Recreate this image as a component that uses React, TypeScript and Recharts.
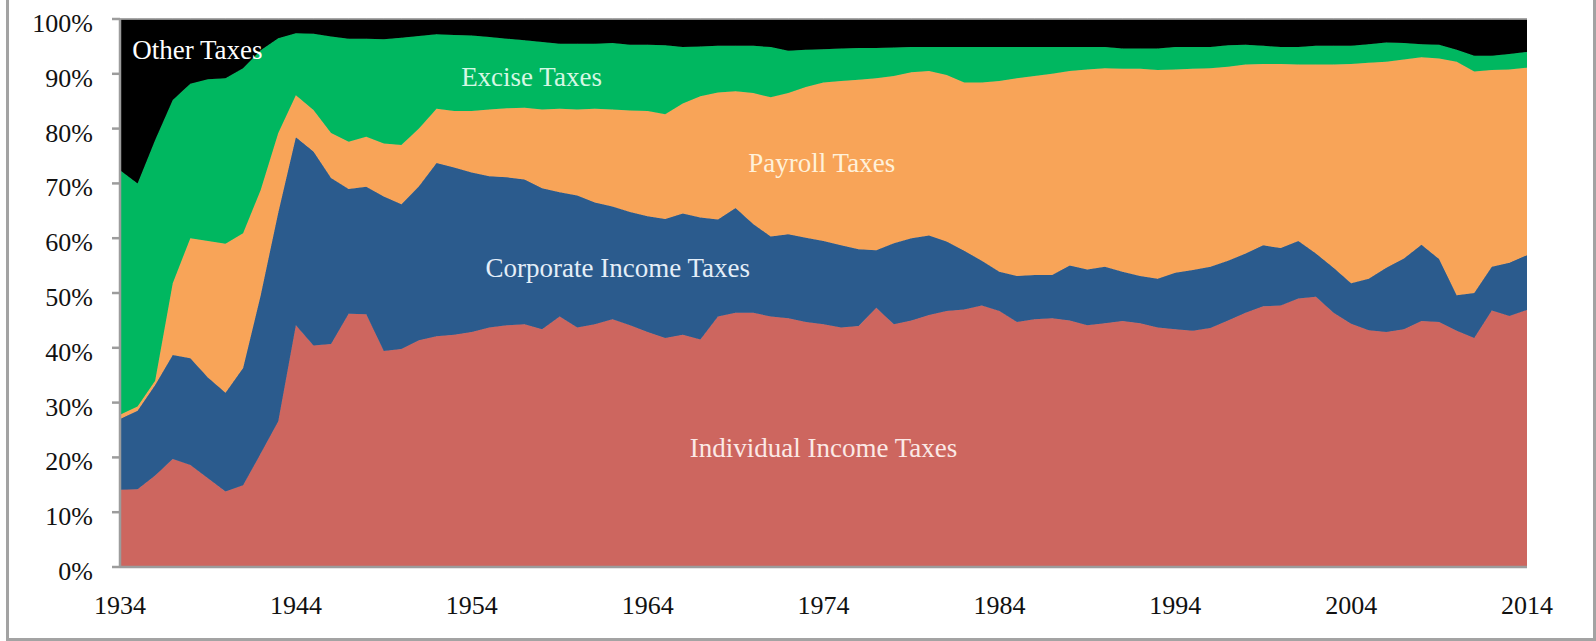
import React from "react";
import {
  AreaChart,
  Area,
  XAxis,
  YAxis,
  ReferenceDot,
  ReferenceLine,
} from "recharts";

const years = Array.from({ length: 81 }, (_, i) => 1934 + i);

// shares of total receipts, %
const individual = [
  14.1, 14.2, 16.7, 19.7, 18.6, 16.2, 13.8, 14.9, 20.7, 26.6,
  44.1, 40.4, 40.7, 46.2, 46.1, 39.4, 39.8, 41.4, 42.1, 42.4,
  42.9, 43.7, 44.1, 44.3, 43.4, 45.7, 43.7, 44.3, 45.2, 44.1,
  42.9, 41.8, 42.4, 41.5, 45.7, 46.4, 46.4, 45.7, 45.4, 44.7,
  44.3, 43.7, 44.0, 47.3, 44.3, 45.0, 46.0, 46.7, 47.0, 47.7,
  46.7, 44.7, 45.2, 45.4, 45.0, 44.1, 44.5, 44.9, 44.5, 43.7,
  43.4, 43.1, 43.6, 45.0, 46.4, 47.6, 47.7, 49.0, 49.3, 46.4,
  44.4, 43.2, 42.9, 43.4, 44.9, 44.7, 43.1, 41.8, 46.8, 45.8,
  46.9,
];

const corporate = [
  12.9, 14.3, 16.5, 19.0, 19.5, 18.4, 18.0, 21.4, 28.9, 38.1,
  34.3, 35.4, 30.3, 22.8, 23.3, 28.2, 26.4, 28.1, 31.6, 30.5,
  29.1, 27.6, 27.0, 26.4, 25.7, 22.7, 24.1, 22.2, 20.6, 20.7,
  21.1, 21.7, 22.1, 22.3, 17.7, 19.1, 16.2, 14.6, 15.3, 15.4,
  15.2, 15.0, 14.0, 10.5, 14.8, 15.0, 14.5, 12.7, 10.7, 8.2,
  7.2, 8.4, 8.1, 7.9, 10.0, 10.2, 10.3, 9.0, 8.6, 8.9,
  10.3, 11.1, 11.2, 10.9, 10.8, 11.1, 10.5, 10.5, 7.9, 8.2,
  7.4, 9.4, 11.7, 12.9, 13.9, 11.5, 6.5, 8.2, 8.0, 9.7,
  10.0,
];

const payroll = [
  0.8, 0.8, 0.8, 13.1, 21.9, 24.9, 27.2, 24.6, 19.2, 14.5,
  7.7, 7.6, 8.2, 8.6, 9.1, 9.7, 10.8, 10.5, 9.9, 10.3,
  11.2, 12.2, 12.6, 13.1, 14.4, 15.2, 15.7, 17.1, 17.7, 18.5,
  19.2, 19.1, 20.1, 22.1, 23.2, 21.3, 23.9, 25.4, 25.8, 27.5,
  28.9, 30.0, 30.9, 31.4, 30.5, 30.3, 30.0, 30.4, 30.7, 32.5,
  34.8, 36.1, 36.3, 36.7, 35.5, 36.5, 36.2, 37.0, 37.8, 38.1,
  37.1, 36.7, 36.2, 35.4, 34.5, 33.1, 33.6, 32.2, 34.5, 37.1,
  40.0, 39.4, 37.6, 36.3, 34.2, 36.6, 42.6, 40.4, 35.9, 35.3,
  34.2,
];

const excise = [
  44.6, 40.7, 43.9, 33.4, 28.2, 29.5, 30.2, 30.1, 25.5, 17.3,
  11.3, 13.9, 17.6, 18.8, 17.9, 19.0, 19.6, 16.9, 13.6, 13.9,
  13.8, 13.2, 12.7, 12.3, 12.3, 11.9, 12.0, 11.9, 12.1, 12.0,
  12.1, 12.6, 10.3, 9.1, 8.5, 8.3, 8.6, 9.2, 7.7, 6.8,
  6.1, 5.9, 5.8, 5.5, 5.2, 4.6, 4.4, 5.1, 6.5, 6.5,
  6.2, 5.7, 5.3, 4.9, 4.4, 4.1, 3.9, 3.7, 3.7, 3.9,
  4.1, 4.0, 3.9, 3.9, 3.6, 3.3, 3.1, 3.2, 3.4, 3.4,
  3.3, 3.4, 3.5, 3.0, 2.4, 2.5, 2.2, 2.9, 2.6, 2.8,
  2.9,
];

const other = [
  27.6, 30.0, 22.1, 14.8, 11.8, 11.0, 10.8, 9.0, 5.7, 3.5,
  2.6, 2.7, 3.2, 3.6, 3.6, 3.7, 3.4, 3.1, 2.8, 2.9,
  3.0, 3.3, 3.6, 3.9, 4.2, 4.5, 4.5, 4.5, 4.4, 4.7,
  4.7, 4.8, 5.1, 5.0, 4.9, 4.9, 4.9, 5.1, 5.8, 5.6,
  5.5, 5.4, 5.3, 5.3, 5.2, 5.1, 5.1, 5.1, 5.1, 5.1,
  5.1, 5.1, 5.1, 5.1, 5.1, 5.1, 5.1, 5.4, 5.4, 5.4,
  5.1, 5.1, 5.1, 4.8, 4.7, 4.9, 5.1, 5.1, 4.9, 4.9,
  4.9, 4.6, 4.3, 4.4, 4.6, 4.7, 5.6, 6.7, 6.7, 6.4,
  6.0,
];

const xTicks = [1934, 1944, 1954, 1964, 1974, 1984, 1994, 2004, 2014];
const yTicks = [0, 10, 20, 30, 40, 50, 60, 70, 80, 90, 100];

const series = [
  { key: "individual", name: "Individual Income Taxes", color: "#CD665F" },
  { key: "corporate", name: "Corporate Income Taxes", color: "#2B5B8D" },
  { key: "payroll", name: "Payroll Taxes", color: "#F8A458" },
  { key: "excise", name: "Excise Taxes", color: "#00B760" },
  { key: "other", name: "Other Taxes", color: "#000000" },
];

// in-chart labels, placed in data coordinates
const labels = [
  { text: "Other Taxes", x: 1938.4, y: 94.4, color: "#ffffff" },
  { text: "Excise Taxes", x: 1957.4, y: 89.5, color: "#d6f7e4" },
  { text: "Payroll Taxes", x: 1973.9, y: 73.7, color: "#fff1da" },
  { text: "Corporate Income Taxes", x: 1962.3, y: 54.5, color: "#e4eef8" },
  { text: "Individual Income Taxes", x: 1974.0, y: 21.8, color: "#fbe9e6" },
];

const data = years.map((year, i) => ({
  year,
  individual: individual[i],
  corporate: corporate[i],
  payroll: payroll[i],
  excise: excise[i],
  other: other[i],
}));

const FONT = '"Liberation Serif", "Times New Roman", serif';
const AXIS = "#9c9c9c";

function XTick({ x, y, payload }: any) {
  return (
    <text x={x} y={y + 45} textAnchor="middle" fontFamily={FONT} fontSize={26} fill="#111">
      {payload.value}
    </text>
  );
}

function YTick({ x, y, payload }: any) {
  return (
    <text x={x - 17} y={y + 13} textAnchor="end" fontFamily={FONT} fontSize={26} fill="#111">
      {payload.value}%
    </text>
  );
}

export default function App() {
  return (
    <div style={{ position: "absolute", left: 0, top: 0, width: 1596, height: 641, background: "#fff" }}>
      <div
        style={{
          position: "absolute",
          left: 6,
          top: -6,
          width: 1590,
          height: 647,
          boxSizing: "border-box",
          border: "3px solid #a3a3a3",
        }}
      />
      <AreaChart
        width={1596}
        height={641}
        data={data}
        margin={{ top: 19, right: 69, bottom: 24, left: 10 }}
      >
        <XAxis
          dataKey="year"
          type="number"
          domain={[1934, 2014]}
          ticks={xTicks}
          tick={<XTick />}
          tickLine={false}
          tickSize={0}
          height={50}
          stroke={AXIS}
          strokeWidth={2.5}
        />
        <YAxis
          type="number"
          domain={[0, 100]}
          ticks={yTicks}
          tick={<YTick />}
          tickSize={8}
          width={110}
          stroke={AXIS}
          strokeWidth={2.5}
          interval={0}
        />
        {series.map((s) => (
          <Area
            key={s.key}
            type="linear"
            dataKey={s.key}
            name={s.name}
            stackId="1"
            fill={s.color}
            fillOpacity={1}
            stroke={s.color}
            strokeWidth={1}
            isAnimationActive={false}
          />
        ))}
        <ReferenceLine y={100} stroke="#b5b5b5" strokeWidth={1.5} />
        {labels.map((l) => (
          <ReferenceDot
            key={l.text}
            x={l.x}
            y={l.y}
            r={0}
            shape={(p: any) => (
              <text
                x={p.cx}
                y={p.cy}
                textAnchor="middle"
                dominantBaseline="central"
                fontFamily={FONT}
                fontSize={27}
                fill={l.color}
              >
                {l.text}
              </text>
            )}
          />
        ))}
      </AreaChart>
    </div>
  );
}
